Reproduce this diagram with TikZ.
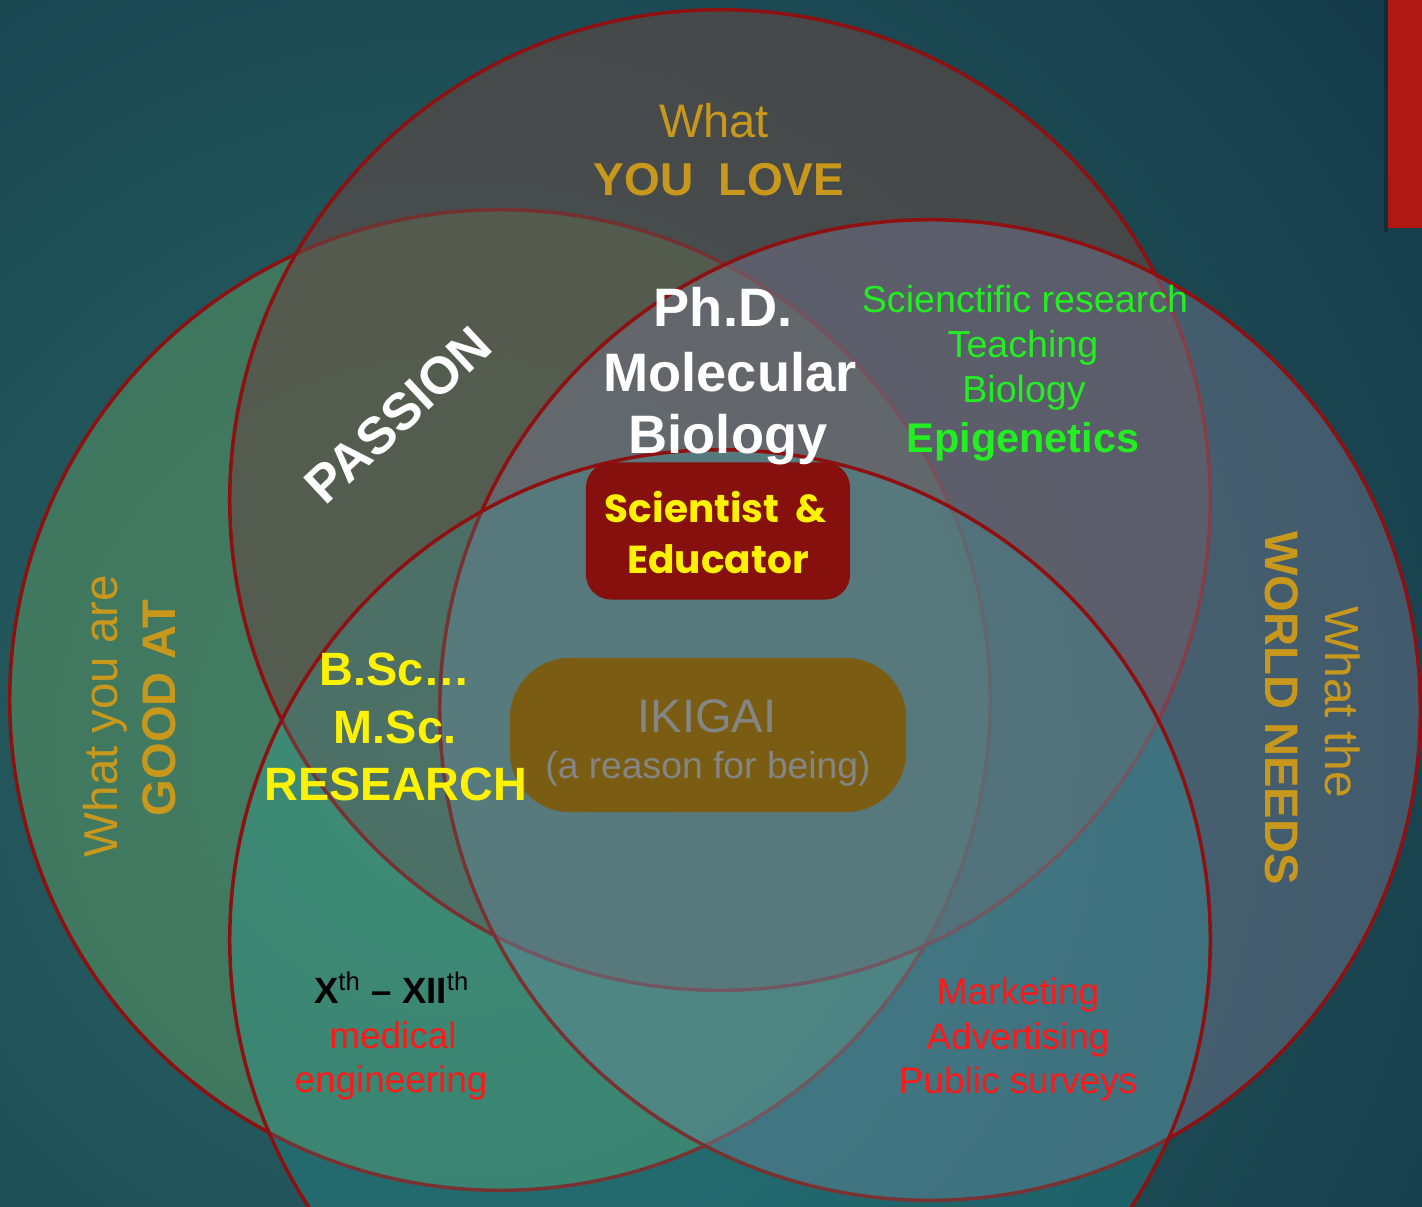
\documentclass[tikz,border=0pt]{standalone}
\usepackage{fontspec}
\setmainfont{Liberation Sans}
\newfontfamily\gothic{Poppins}
\definecolor{bgIn}{RGB}{42,102,102}
\definecolor{bgOut}{RGB}{20,57,72}
\definecolor{ringRed}{RGB}{142,16,16}
\definecolor{loveFill}{RGB}{98,72,68}
\definecolor{goodFill}{RGB}{100,160,100}
\definecolor{needFill}{RGB}{118,120,145}
\definecolor{paidFill}{RGB}{40,190,190}
\definecolor{gold}{RGB}{200,152,28}
\definecolor{leafGreen}{RGB}{34,238,34}
\definecolor{brightRed}{RGB}{255,24,24}
\definecolor{boxRed}{RGB}{134,16,14}
\definecolor{boxGold}{RGB}{122,93,18}
\definecolor{ikiGrey}{RGB}{132,134,134}
\definecolor{barRed}{RGB}{176,24,19}
\newcommand{\txtsize}[1]{\fontsize{#1}{#1}\selectfont}
\begin{document}
\begin{tikzpicture}[x=0.01cm,y=-0.01cm,
	ring/.style={draw=ringRed,line width=1pt},
	txt/.style={anchor=base,inner sep=0pt},
	sciBox/.style={fill=boxRed,rounded corners=0.25cm,minimum width=2.64cm,minimum height=1.37cm,inner sep=0pt},
	ikiBox/.style={fill=boxGold,rounded corners=0.6cm,minimum width=3.96cm,minimum height=1.54cm,inner sep=0pt}]
	\useasboundingbox (0,0) rectangle (1422,1206);
	\begin{scope}
		\clip (0,0) rectangle (1422,1206);
		\fill [bgOut] (0,0) rectangle (1422,1206);
		\shade [inner color=bgIn,outer color=bgOut] (450,750) circle (12.5cm);
	\end{scope}
	\fill [black,opacity=0.25] (1384,0) rectangle (1388,232);
	\fill [barRed] (1388,0) rectangle (1422,228);
	% the four circles
	\coordinate (Oleft) at (500,700);
	\coordinate (Otop) at (720,500);
	\coordinate (Oright) at (930,710);
	\coordinate (Obottom) at (720,940);
	\filldraw [ring,fill=goodFill,fill opacity=0.45] (Oleft) circle (4.9cm);
	\filldraw [ring,fill=loveFill,fill opacity=0.6] (Otop) circle (4.9cm);
	\filldraw [ring,fill=needFill,fill opacity=0.45] (Oright) circle (4.9cm);
	\filldraw [ring,fill=paidFill,fill opacity=0.2] (Obottom) circle (4.9cm);
	% boxes
	\node [sciBox] (sciBox) at (718,531) {};
	\node [ikiBox] (ikiBox) at (708,735) {};
	% what you love
	\node [txt,text=gold,font=\txtsize{13.4}] (love1) at (714,137) {What};
	\node [txt,text=gold,font=\bfseries\txtsize{13.1}] (love2) at (719,195) {YOU\ \ LOVE};
	% good at
	\node [txt,text=gold,font=\txtsize{13.5},rotate=90] (good1) at (117,716) {What you are};
	\node [txt,text=gold,font=\bfseries\txtsize{13.4},rotate=90] (good2) at (175,708) {GOOD AT};
	% world needs
	\node [txt,text=gold,font=\bfseries\txtsize{13.4},rotate=-90] (need1) at (1265,708) {WORLD NEEDS};
	\node [txt,text=gold,font=\txtsize{13.6},rotate=-90] (need2) at (1325,702) {What the};
	% passion
	\node [inner sep=0pt,text=white,font=\bfseries\txtsize{14.8},rotate=43] (passion) at (398,415) {PASSION};
	% ph.d.
	\node [txt,text=white,font=\bfseries\txtsize{15.4}] (phd1) at (723,326) {Ph.D.};
	\node [txt,text=white,font=\bfseries\txtsize{15.4}] (phd2) at (730,391) {Molecular};
	\node [txt,text=white,font=\bfseries\txtsize{15.4}] (phd3) at (728,453) {Biology};
	% vocation
	\node [txt,text=leafGreen,font=\txtsize{10.7}] (voc1) at (1025,312) {Scienctific research};
	\node [txt,text=leafGreen,font=\txtsize{10.7}] (voc2) at (1023,357) {Teaching};
	\node [txt,text=leafGreen,font=\txtsize{10.7}] (voc3) at (1024,402) {Biology};
	\node [txt,text=leafGreen,font=\bfseries\txtsize{11.8}] (voc4) at (1023,452) {Epigenetics};
	% scientist
	\node [txt,text=yellow,font=\gothic\bfseries\txtsize{11.1}] (sci1) at (716,522) {Scientist\ \ \&};
	\node [txt,text=yellow,font=\gothic\bfseries\txtsize{11.1}] (sci2) at (718,573) {Educator};
	% ikigai
	\node [txt,text=ikiGrey,font=\txtsize{13.4}] (iki1) at (707,732) {IKIGAI};
	\node [txt,text=ikiGrey,font=\txtsize{10.6}] (iki2) at (708,778) {(a reason for being)};
	% profession
	\node [txt,text=yellow,font=\bfseries\txtsize{13.3}] (prof1) at (395,685) {B.Sc\dots};
	\node [txt,text=yellow,font=\bfseries\txtsize{13.3}] (prof2) at (395,743) {M.Sc.};
	\node [txt,text=yellow,font=\bfseries\txtsize{13.3}] (prof3) at (396,800) {RESEARCH};
	% school
	\node [txt,text=black,font=\bfseries\txtsize{10.4}] (school1) at (392,1003) {X\textsuperscript{\mdseries th} -- XII\textsuperscript{\mdseries th}};
	\node [txt,text=brightRed,font=\txtsize{10.5}] (school2) at (393,1048) {medical};
	\node [txt,text=brightRed,font=\txtsize{10.5}] (school3) at (391,1092) {engineering};
	% paid for
	\node [txt,text=brightRed,font=\txtsize{10.5}] (paid1) at (1018,1004) {Marketing};
	\node [txt,text=brightRed,font=\txtsize{10.5}] (paid2) at (1018,1049) {Advertising};
	\node [txt,text=brightRed,font=\txtsize{10.5}] (paid3) at (1018,1093) {Public surveys};
\end{tikzpicture}
\end{document}
